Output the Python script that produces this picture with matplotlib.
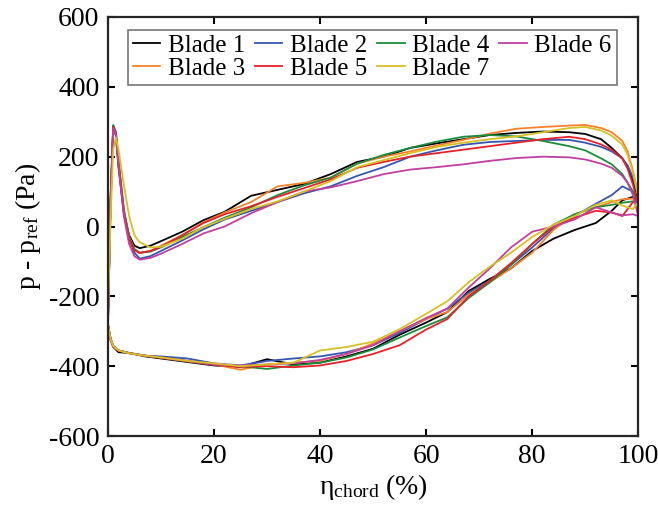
import matplotlib
matplotlib.use('Agg')
import matplotlib.pyplot as plt
import numpy as np

plt.rcParams['font.family'] = ['Liberation Serif', 'DejaVu Serif']
plt.rcParams['mathtext.fontset'] = 'custom'
plt.rcParams['mathtext.rm'] = 'Liberation Serif'
plt.rcParams['mathtext.it'] = 'Liberation Serif:italic'
plt.rcParams['axes.unicode_minus'] = False

# chord positions (%) for upper and lower branches
x_upper = [0, 0.5, 1, 1.5, 2, 3, 4, 5, 6, 8, 10, 14, 18, 22, 27, 32, 37, 42, 47,
           52, 57, 62, 67, 72, 77, 82, 87, 90, 93, 95, 97, 98, 99, 100]
x_lower = [0, 0.5, 1, 2, 4, 7, 10, 15, 20, 25, 30, 35, 40, 45, 50, 55, 60, 64,
           68, 72, 76, 80, 84, 88, 92, 95, 97, 99, 100]

# upper branch (Pa)
b1_upper = [-280, 60, 285, 260, 170, 40, -25, -55, -62, -55, -42, -15, 18, 42, 88, 105, 122,
            150, 185, 200, 225, 238, 250, 262, 268, 272, 270, 265, 250, 225, 195, 170, 130, 70]
b2_upper = [-280, 80, 290, 270, 190, 50, -35, -75, -92, -85, -70, -40, -8, 20, 45, 70, 95,
            115, 145, 170, 200, 218, 234, 242, 245, 248, 248, 240, 228, 215, 195, 175, 140, 90]
b3_upper = [-280, 70, 285, 265, 185, 45, -30, -65, -75, -70, -55, -25, 12, 40, 70, 115, 125,
            140, 180, 200, 215, 232, 248, 266, 280, 285, 289, 291, 282, 270, 245, 215, 160, 90]
b4_upper = [-280, 80, 290, 270, 185, 45, -30, -65, -75, -72, -60, -30, -2, 25, 55, 90, 118,
            140, 180, 205, 225, 243, 257, 262, 258, 245, 230, 218, 195, 178, 150, 125, 100, 65]
b5_upper = [-280, 75, 285, 265, 180, 40, -35, -68, -76, -70, -58, -25, 10, 35, 58, 85, 110,
            135, 168, 185, 200, 210, 220, 230, 240, 250, 257, 250, 235, 220, 195, 165, 120, 60]
b6_upper = [-300, 60, 280, 262, 175, 30, -50, -85, -95, -90, -78, -50, -20, 0, 38, 70, 100,
            112, 130, 150, 163, 170, 178, 188, 196, 200, 198, 192, 180, 168, 145, 125, 90, 30]
b7_upper = [-250, 20, 220, 255, 220, 120, 30, -25, -45, -60, -58, -35, -2, 22, 50, 72, 100,
            130, 170, 190, 210, 228, 240, 250, 258, 270, 282, 285, 275, 260, 235, 205, 155, 85]

# lower branch (Pa)
b1_lower = [-280, -320, -345, -360, -362, -372, -378, -388, -398, -402, -380, -395, -390, -372,
            -350, -310, -275, -245, -185, -150, -120, -70, -35, -10, 10, 45, 75, 85, 70]
b2_lower = [-280, -325, -345, -355, -362, -370, -372, -378, -392, -398, -385, -378, -372, -360,
            -340, -305, -265, -235, -190, -155, -110, -60, -5, 30, 65, 90, 115, 100, 75]
b3_lower = [-280, -325, -345, -355, -362, -370, -375, -385, -395, -410, -395, -390, -385, -365,
            -335, -300, -265, -245, -195, -160, -120, -75, -10, 35, 55, 70, 78, 80, 65]
b4_lower = [-280, -322, -342, -355, -363, -370, -376, -386, -396, -400, -408, -398, -390, -375,
            -352, -318, -285, -260, -205, -160, -110, -50, 5, 35, 55, 62, 68, 72, 70]
b5_lower = [-280, -322, -342, -355, -363, -370, -376, -386, -396, -402, -400, -403, -398, -385,
            -365, -340, -295, -265, -200, -155, -105, -50, 0, 25, 45, 40, 30, 70, 80]
b6_lower = [-290, -325, -342, -355, -363, -370, -375, -385, -395, -398, -395, -392, -382, -365,
            -340, -300, -262, -235, -175, -120, -60, -15, 0, 20, 55, 40, 32, 35, 30]
b7_lower = [-280, -322, -342, -355, -363, -370, -375, -385, -392, -400, -395, -390, -355, -345,
            -330, -294, -250, -214, -160, -115, -75, -30, 5, 30, 62, 75, 60, 50, 70]

labels = ['Blade 1', 'Blade 2', 'Blade 3', 'Blade 4', 'Blade 5', 'Blade 6', 'Blade 7']
colors = ['#000000', '#3556b0', '#f5822a', '#1a8c3c', '#e8202a', '#c0409f', '#d6c124']
uppers = [b1_upper, b2_upper, b3_upper, b4_upper, b5_upper, b6_upper, b7_upper]
lowers = [b1_lower, b2_lower, b3_lower, b4_lower, b5_lower, b6_lower, b7_lower]

fig = plt.figure(figsize=(6.58, 5.07), dpi=100)
ax = fig.add_axes([0.164, 0.140, 0.806, 0.8265])

handles = []
for up, lo, c, lab in zip(uppers, lowers, colors, labels):
    xs = np.concatenate([x_upper, x_lower[::-1]])
    ys = np.concatenate([up, lo[::-1]])
    h, = ax.plot(xs, ys, color=c, linewidth=1.3, label=lab)
    handles.append(h)

ax.set_xlim(0, 100)
ax.set_ylim(-600, 600)
ax.set_xticks([0, 20, 40, 60, 80, 100])
ax.set_yticks([-600, -400, -200, 0, 200, 400, 600])
ax.tick_params(direction='in', length=5, width=1.5, labelsize=20,
               top=True, right=True, pad=6)
for s in ax.spines.values():
    s.set_linewidth(1.6)
    s.set_color('#262626')

ax.set_xlabel('η$_{\\mathrm{chord}}$ (%)', fontsize=20, labelpad=2)
ax.set_ylabel('p - p$_{\\mathrm{ref}}$ (Pa)', fontsize=20, labelpad=4)

# column-wise fill so rows read 1,2,4,6 / 3,5,7
order = [0, 2, 1, 4, 3, 6, 5]
leg = ax.legend([handles[i] for i in order], [labels[i] for i in order],
                ncol=4, loc='upper left', bbox_to_anchor=(0.037, 0.97),
                fontsize=18, frameon=True, fancybox=False, edgecolor='#555555',
                handlelength=1.1, handletextpad=0.3, columnspacing=0.4,
                labelspacing=0.0, borderpad=0.2, borderaxespad=0)
leg.get_frame().set_linewidth(1.2)

fig.savefig('out.png', dpi=100)
